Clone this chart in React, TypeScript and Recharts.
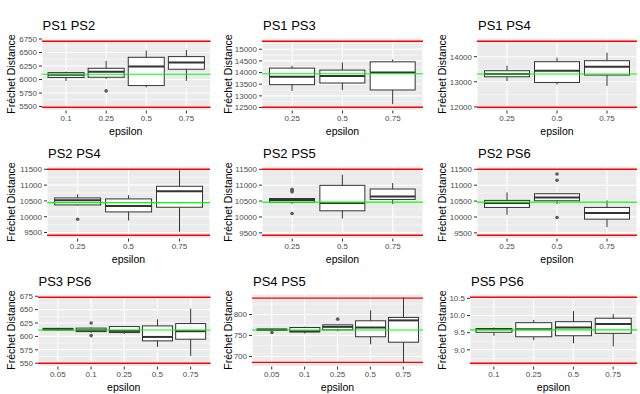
import React from "react";
import {
  ComposedChart,
  Bar,
  XAxis,
  YAxis,
  CartesianGrid,
  ReferenceLine,
} from "recharts";

const FONT = '"Liberation Sans", Arial, Helvetica, sans-serif';

// box stats per epsilon: [min, q1, median, q3, max]; lines: [red low, green, red high]
const ps1ps2Eps = ["0.1", "0.25", "0.5", "0.75"];
const ps1ps2Box = [
  [5975, 6038, 6090, 6128, 6146],
  [6011, 6042, 6146, 6208, 6344],
  [5857, 5888, 6239, 6411, 6534],
  [5974, 6190, 6313, 6424, 6547],
];
const ps1ps2Out = [[], [5790], [], []];
const ps1ps2Ticks = [5500, 5750, 6000, 6250, 6500, 6750];
const ps1ps2Lines = [5488, 6097, 6707];

const ps1ps3Eps = ["0.25", "0.5", "0.75"];
const ps1ps3Box = [
  [13211, 13481, 13821, 14190, 14290],
  [13253, 13552, 13850, 14105, 14432],
  [12643, 13253, 14006, 14460, 14560],
];
const ps1ps3Out = [[], [], []];
const ps1ps3Ticks = [12500, 13000, 13500, 14000, 14500, 15000];
const ps1ps3Lines = [12514, 13949, 15341];

const ps1ps4Eps = ["0.25", "0.5", "0.75"];
const ps1ps4Box = [
  [13027, 13200, 13307, 13440, 13640],
  [12893, 12973, 13440, 13800, 13960],
  [12840, 13267, 13600, 13840, 14160],
];
const ps1ps4Out = [[], [], []];
const ps1ps4Ticks = [12000, 13000, 14000];
const ps1ps4Lines = [11987, 13307, 14613];

const ps2ps4Eps = ["0.25", "0.5", "0.75"];
const ps2ps4Box = [
  [10352, 10373, 10521, 10594, 10710],
  [9878, 10152, 10342, 10563, 10679],
  [9520, 10300, 10805, 10963, 11468],
];
const ps2ps4Out = [[9920], [], []];
const ps2ps4Ticks = [9500, 10000, 10500, 11000, 11500];
const ps2ps4Lines = [9415, 10447, 11500];

const ps2ps5Eps = ["0.25", "0.5", "0.75"];
const ps2ps5Box = [
  [10410, 10460, 10530, 10580, 10600],
  [9952, 10194, 10437, 10995, 11332],
  [10405, 10552, 10647, 10879, 11068],
];
const ps2ps5Out = [[10870, 10830, 10790, 10110], [], []];
const ps2ps5Ticks = [9500, 10000, 10500, 11000, 11500];
const ps2ps5Lines = [9426, 10468, 11500];

const ps2ps6Eps = ["0.25", "0.5", "0.75"];
const ps2ps6Box = [
  [10068, 10300, 10437, 10521, 10773],
  [10405, 10510, 10616, 10731, 10750],
  [9679, 9931, 10121, 10300, 10521],
];
const ps2ps6Out = [[], [11353, 11153, 9984], []];
const ps2ps6Ticks = [9500, 10000, 10500, 11000, 11500];
const ps2ps6Lines = [9426, 10468, 11500];

const ps3ps6Eps = ["0.05", "0.1", "0.25", "0.5", "0.75"];
const ps3ps6Box = [
  [611, 612, 613.5, 615, 616],
  [607, 609, 611.5, 615.5, 617],
  [604.7, 607.2, 610.3, 618.4, 619.6],
  [580.5, 591.7, 599, 619.6, 632],
  [563.7, 594.8, 609.7, 624, 652],
];
const ps3ps6Out = [[], [625, 601.5], [], [], []];
const ps3ps6Ticks = [550, 575, 600, 625, 650, 675];
const ps3ps6Lines = [550, 612, 673];

const ps4ps5Eps = ["0.05", "0.1", "0.25", "0.5", "0.75"];
const ps4ps5Box = [
  [760, 762, 763.5, 765.5, 766],
  [754.7, 758.7, 760, 769, 771],
  [760, 763.5, 770.6, 775.4, 776],
  [729, 747, 769, 785, 810],
  [684, 734, 786, 793, 841],
];
const ps4ps5Out = [[757], [], [789], [], []];
const ps4ps5Ticks = [700, 750, 800];
const ps4ps5Lines = [686, 763, 839];

const ps5ps6Eps = ["0.1", "0.25", "0.5", "0.75"];
const ps5ps6Box = [
  [9.41, 9.51, 9.6, 9.62, 9.65],
  [9.28, 9.38, 9.6, 9.79, 9.87],
  [9.19, 9.41, 9.65, 9.82, 10.13],
  [9.1, 9.48, 9.75, 9.92, 10.04],
];
const ps5ps6Out = [[], [], [], []];
const ps5ps6Ticks = [9.0, 9.5, 10.0, 10.5];
const ps5ps6Lines = [8.61, 9.58, 10.53];

const PLOT_H = 72.5;
const AXIS_W = 40;
const MT = 4;
const XH = 30;

// box drawn inside the [lo, hi] range bar that recharts positions for us
const BoxShape = (props: any) => {
  const { x, y, width, height, payload } = props;
  if (!payload) return null;
  const [mn, q1, md, q3, mx] = payload.box;
  const [lo, hi] = payload.range;
  const top = Math.min(y, y + height);
  const bot = Math.max(y, y + height);
  const py = (v: number) => top + ((bot - top) * (hi - v)) / (hi - lo);
  const cx = x + width / 2;
  return (
    <g>
      <line x1={cx} x2={cx} y1={py(mx)} y2={py(q3)} stroke="#333" strokeWidth={1} />
      <line x1={cx} x2={cx} y1={py(q1)} y2={py(mn)} stroke="#333" strokeWidth={1} />
      <rect
        x={x}
        y={py(q3)}
        width={width}
        height={Math.max(py(q1) - py(q3), 0.5)}
        fill="#fff"
        stroke="#333"
        strokeWidth={1}
      />
      <line x1={x} x2={x + width} y1={py(md)} y2={py(md)} stroke="#333" strokeWidth={2} />
      {payload.out.map((v: number, i: number) => (
        <circle key={i} cx={cx} cy={py(v)} r={1.8} fill="#5a5a5a" />
      ))}
    </g>
  );
};

interface PanelProps {
  title: string;
  eps: string[];
  box: number[][];
  out: number[][];
  ticks: number[];
  lines: number[];
  left: number;
  right: number;
  top: number;
  labelX: number;
  fmt?: (v: number) => string;
}

function BoxPanel({ title, eps, box, out, ticks, lines, left, right, top, labelX, fmt }: PanelProps) {
  const data = eps.map((e, i) => {
    const vals = [...box[i], ...out[i]];
    return { eps: e, box: box[i], out: out[i], range: [Math.min(...vals), Math.max(...vals)] };
  });
  const all = [...data.flatMap((d) => d.range), ...lines];
  const lo0 = Math.min(...all);
  const hi0 = Math.max(...all);
  const ex = (hi0 - lo0) * 0.05;
  const domain = [lo0 - ex, hi0 + ex];
  const step = ticks[1] - ticks[0];
  const minor: number[] = [];
  for (let v = ticks[0] - step / 2; v <= domain[1]; v += step) {
    if (v >= domain[0]) minor.push(v);
  }
  const plotW = right - left;
  const xPad = (0.1 * plotW) / (eps.length + 0.2);
  const chartLeft = left - AXIS_W;
  const width = right - chartLeft + 2;
  const height = PLOT_H + MT + XH;

  return (
    <>
      <div
        style={{
          position: "absolute",
          left: left + 1,
          top: top - 13,
          transform: "translateY(-50%)",
          fontSize: 13,
          whiteSpace: "nowrap",
        }}
      >
        {title}
      </div>
      <div
        style={{
          position: "absolute",
          left: labelX,
          top: top + PLOT_H / 2,
          transform: "translate(-50%, -50%) rotate(-90deg)",
          fontSize: 10.5,
          whiteSpace: "nowrap",
        }}
      >
        Fréchet Distance
      </div>
      <div
        style={{
          position: "absolute",
          left: (left + right) / 2,
          top: top + PLOT_H + 21,
          transform: "translate(-50%, -50%)",
          fontSize: 10.5,
          whiteSpace: "nowrap",
        }}
      >
        epsilon
      </div>
      <div style={{ position: "absolute", left: chartLeft, top: top - MT }}>
        <ComposedChart
          width={width}
          height={height}
          data={data}
          barCategoryGap="5%"
          margin={{ top: MT, right: 2, left: 0, bottom: 0 }}
        >
          <CartesianGrid fill="#EBEBEB" fillOpacity={1} stroke="#fff" strokeWidth={1.1} />
          <CartesianGrid
            horizontalValues={minor}
            vertical={false}
            stroke="#fff"
            strokeWidth={0.5}
          />
          <XAxis
            dataKey="eps"
            type="category"
            interval={0}
            height={XH}
            padding={{ left: xPad, right: xPad }}
            axisLine={false}
            tickSize={3}
            tickLine={{ stroke: "#333" }}
            tick={{ fill: "#4D4D4D", fontSize: 8, fontFamily: FONT }}
          />
          <YAxis
            type="number"
            domain={domain}
            ticks={ticks}
            interval={0}
            width={AXIS_W}
            axisLine={false}
            tickSize={3}
            tickLine={{ stroke: "#333" }}
            tickFormatter={fmt}
            tick={{ fill: "#4D4D4D", fontSize: 8, fontFamily: FONT }}
          />
          <Bar dataKey="range" shape={<BoxShape />} isAnimationActive={false} />
          <ReferenceLine y={lines[0]} stroke="#FF0000" strokeWidth={1.4} />
          <ReferenceLine y={lines[2]} stroke="#FF0000" strokeWidth={1.4} />
          <ReferenceLine y={lines[1]} stroke="#00FF00" strokeWidth={1.1} />
        </ComposedChart>
      </div>
    </>
  );
}

const COL_RIGHT = [210, 423, 637];
const COL_LABEL = [11, 228, 442];
const ROW_TOP = [37.5, 165.5, 293.5];

export default function App() {
  return (
    <div
      style={{
        position: "absolute",
        left: 0,
        top: 0,
        width: 640,
        height: 394,
        overflow: "hidden",
        background: "#fff",
        fontFamily: FONT,
        color: "#000",
      }}
    >
      <BoxPanel title="PS1 PS2" eps={ps1ps2Eps} box={ps1ps2Box} out={ps1ps2Out} ticks={ps1ps2Ticks} lines={ps1ps2Lines}
        left={41.5} right={COL_RIGHT[0]} top={ROW_TOP[0]} labelX={COL_LABEL[0]} />
      <BoxPanel title="PS1 PS3" eps={ps1ps3Eps} box={ps1ps3Box} out={ps1ps3Out} ticks={ps1ps3Ticks} lines={ps1ps3Lines}
        left={262} right={COL_RIGHT[1]} top={ROW_TOP[0]} labelX={COL_LABEL[1]} />
      <BoxPanel title="PS1 PS4" eps={ps1ps4Eps} box={ps1ps4Box} out={ps1ps4Out} ticks={ps1ps4Ticks} lines={ps1ps4Lines}
        left={477} right={COL_RIGHT[2]} top={ROW_TOP[0]} labelX={COL_LABEL[2]} />

      <BoxPanel title="PS2 PS4" eps={ps2ps4Eps} box={ps2ps4Box} out={ps2ps4Out} ticks={ps2ps4Ticks} lines={ps2ps4Lines}
        left={47} right={COL_RIGHT[0]} top={ROW_TOP[1]} labelX={COL_LABEL[0]} />
      <BoxPanel title="PS2 PS5" eps={ps2ps5Eps} box={ps2ps5Box} out={ps2ps5Out} ticks={ps2ps5Ticks} lines={ps2ps5Lines}
        left={262} right={COL_RIGHT[1]} top={ROW_TOP[1]} labelX={COL_LABEL[1]} />
      <BoxPanel title="PS2 PS6" eps={ps2ps6Eps} box={ps2ps6Box} out={ps2ps6Out} ticks={ps2ps6Ticks} lines={ps2ps6Lines}
        left={477} right={COL_RIGHT[2]} top={ROW_TOP[1]} labelX={COL_LABEL[2]} />

      <BoxPanel title="PS3 PS6" eps={ps3ps6Eps} box={ps3ps6Box} out={ps3ps6Out} ticks={ps3ps6Ticks} lines={ps3ps6Lines}
        left={37.5} right={COL_RIGHT[0]} top={ROW_TOP[2]} labelX={COL_LABEL[0]} />
      <BoxPanel title="PS4 PS5" eps={ps4ps5Eps} box={ps4ps5Box} out={ps4ps5Out} ticks={ps4ps5Ticks} lines={ps4ps5Lines}
        left={252} right={COL_RIGHT[1]} top={ROW_TOP[2]} labelX={COL_LABEL[1]} />
      <BoxPanel title="PS5 PS6" eps={ps5ps6Eps} box={ps5ps6Box} out={ps5ps6Out} ticks={ps5ps6Ticks} lines={ps5ps6Lines}
        left={470} right={COL_RIGHT[2]} top={ROW_TOP[2]} labelX={COL_LABEL[2]} fmt={(v) => v.toFixed(1)} />
    </div>
  );
}
